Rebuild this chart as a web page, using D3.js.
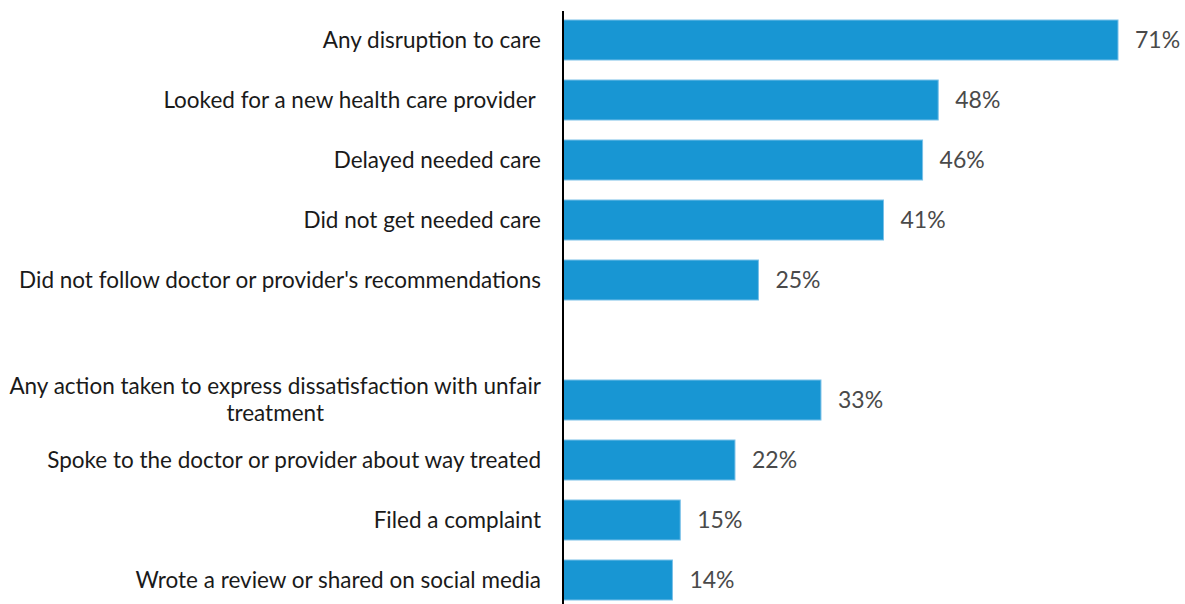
<!DOCTYPE html>
<html>
<head>
<meta charset="utf-8">
<script src="https://cdn.jsdelivr.net/npm/d3@7/dist/d3.min.js"></script>
<style>
  html, body { margin: 0; padding: 0; background: #fff; }
  svg { display: block; font-family: Lato, "Open Sans", sans-serif; }
</style>
</head>
<body>
<svg id="chart" width="1185" height="604"></svg>
<script>
// Categories top to bottom; an empty slot separates the two groups.
const categories = [
  "Any disruption to care",
  "Looked for a new health care provider ",
  "Delayed needed care",
  "Did not get needed care",
  "Did not follow doctor or provider's recommendations",
  "",
  "Any action taken to express dissatisfaction with unfair|treatment",
  "Spoke to the doctor or provider about way treated",
  "Filed a complaint",
  "Wrote a review or shared on social media"
];
const values = [71, 48, 46, 41, 25, null, 33, 22, 15, 14];

const svg = d3.select("#chart");
const axisX = 563;

const x = d3.scaleLinear().domain([0, 71]).range([axisX, 1118]);
const y = d3.scaleBand()
  .domain(d3.range(categories.length))
  .range([10, 610])
  .paddingInner(1 / 3)
  .paddingOuter(1 / 6);

const rows = categories.map((c, i) => ({ label: c, value: values[i], i }));
const barRows = rows.filter(d => d.value != null);

// Bars
svg.append("g")
  .selectAll("rect")
  .data(barRows)
  .join("rect")
  .attr("x", x(0))
  .attr("y", d => y(d.i))
  .attr("width", d => x(d.value) - x(0))
  .attr("height", y.bandwidth())
  .attr("fill", "#1896d3")
  .attr("stroke", "#79c0e8")
  .attr("stroke-width", 1);

// Value labels
svg.append("g")
  .selectAll("text")
  .data(barRows)
  .join("text")
  .attr("x", d => x(d.value) + 17)
  .attr("y", d => y(d.i) + y.bandwidth() / 2)
  .attr("dy", "0.35em")
  .attr("font-size", 23)
  .attr("fill", "#4a4a4a")
  .text(d => d.value + "%");

// Category labels (multi-line labels are centred under their widest line)
const labelRight = axisX - 22;
const lg = svg.append("g");
rows.filter(d => d.label).forEach(d => {
  const lines = d.label.split("|");
  const cy = y(d.i) + y.bandwidth() / 2;
  const lh = 27;
  const t = lg.append("text")
    .attr("font-size", 22.5)
    .attr("fill", "#1a1a1a")
    .style("white-space", "pre");
  lines.forEach((ln, k) => {
    t.append("tspan")
      .attr("y", cy + (k - (lines.length - 1) / 2) * lh)
      .attr("dy", "0.35em")
      .text(ln);
  });
  if (lines.length === 1) {
    t.attr("text-anchor", "end").selectAll("tspan").attr("x", labelRight);
  } else {
    const w = d3.max(t.selectAll("tspan").nodes(), n => n.getComputedTextLength());
    t.attr("text-anchor", "middle").selectAll("tspan").attr("x", labelRight - w / 2);
  }
});

// Vertical baseline
svg.append("line")
  .attr("x1", axisX).attr("x2", axisX)
  .attr("y1", 11).attr("y2", 604)
  .attr("stroke", "#000")
  .attr("stroke-width", 2);
</script>
</body>
</html>
